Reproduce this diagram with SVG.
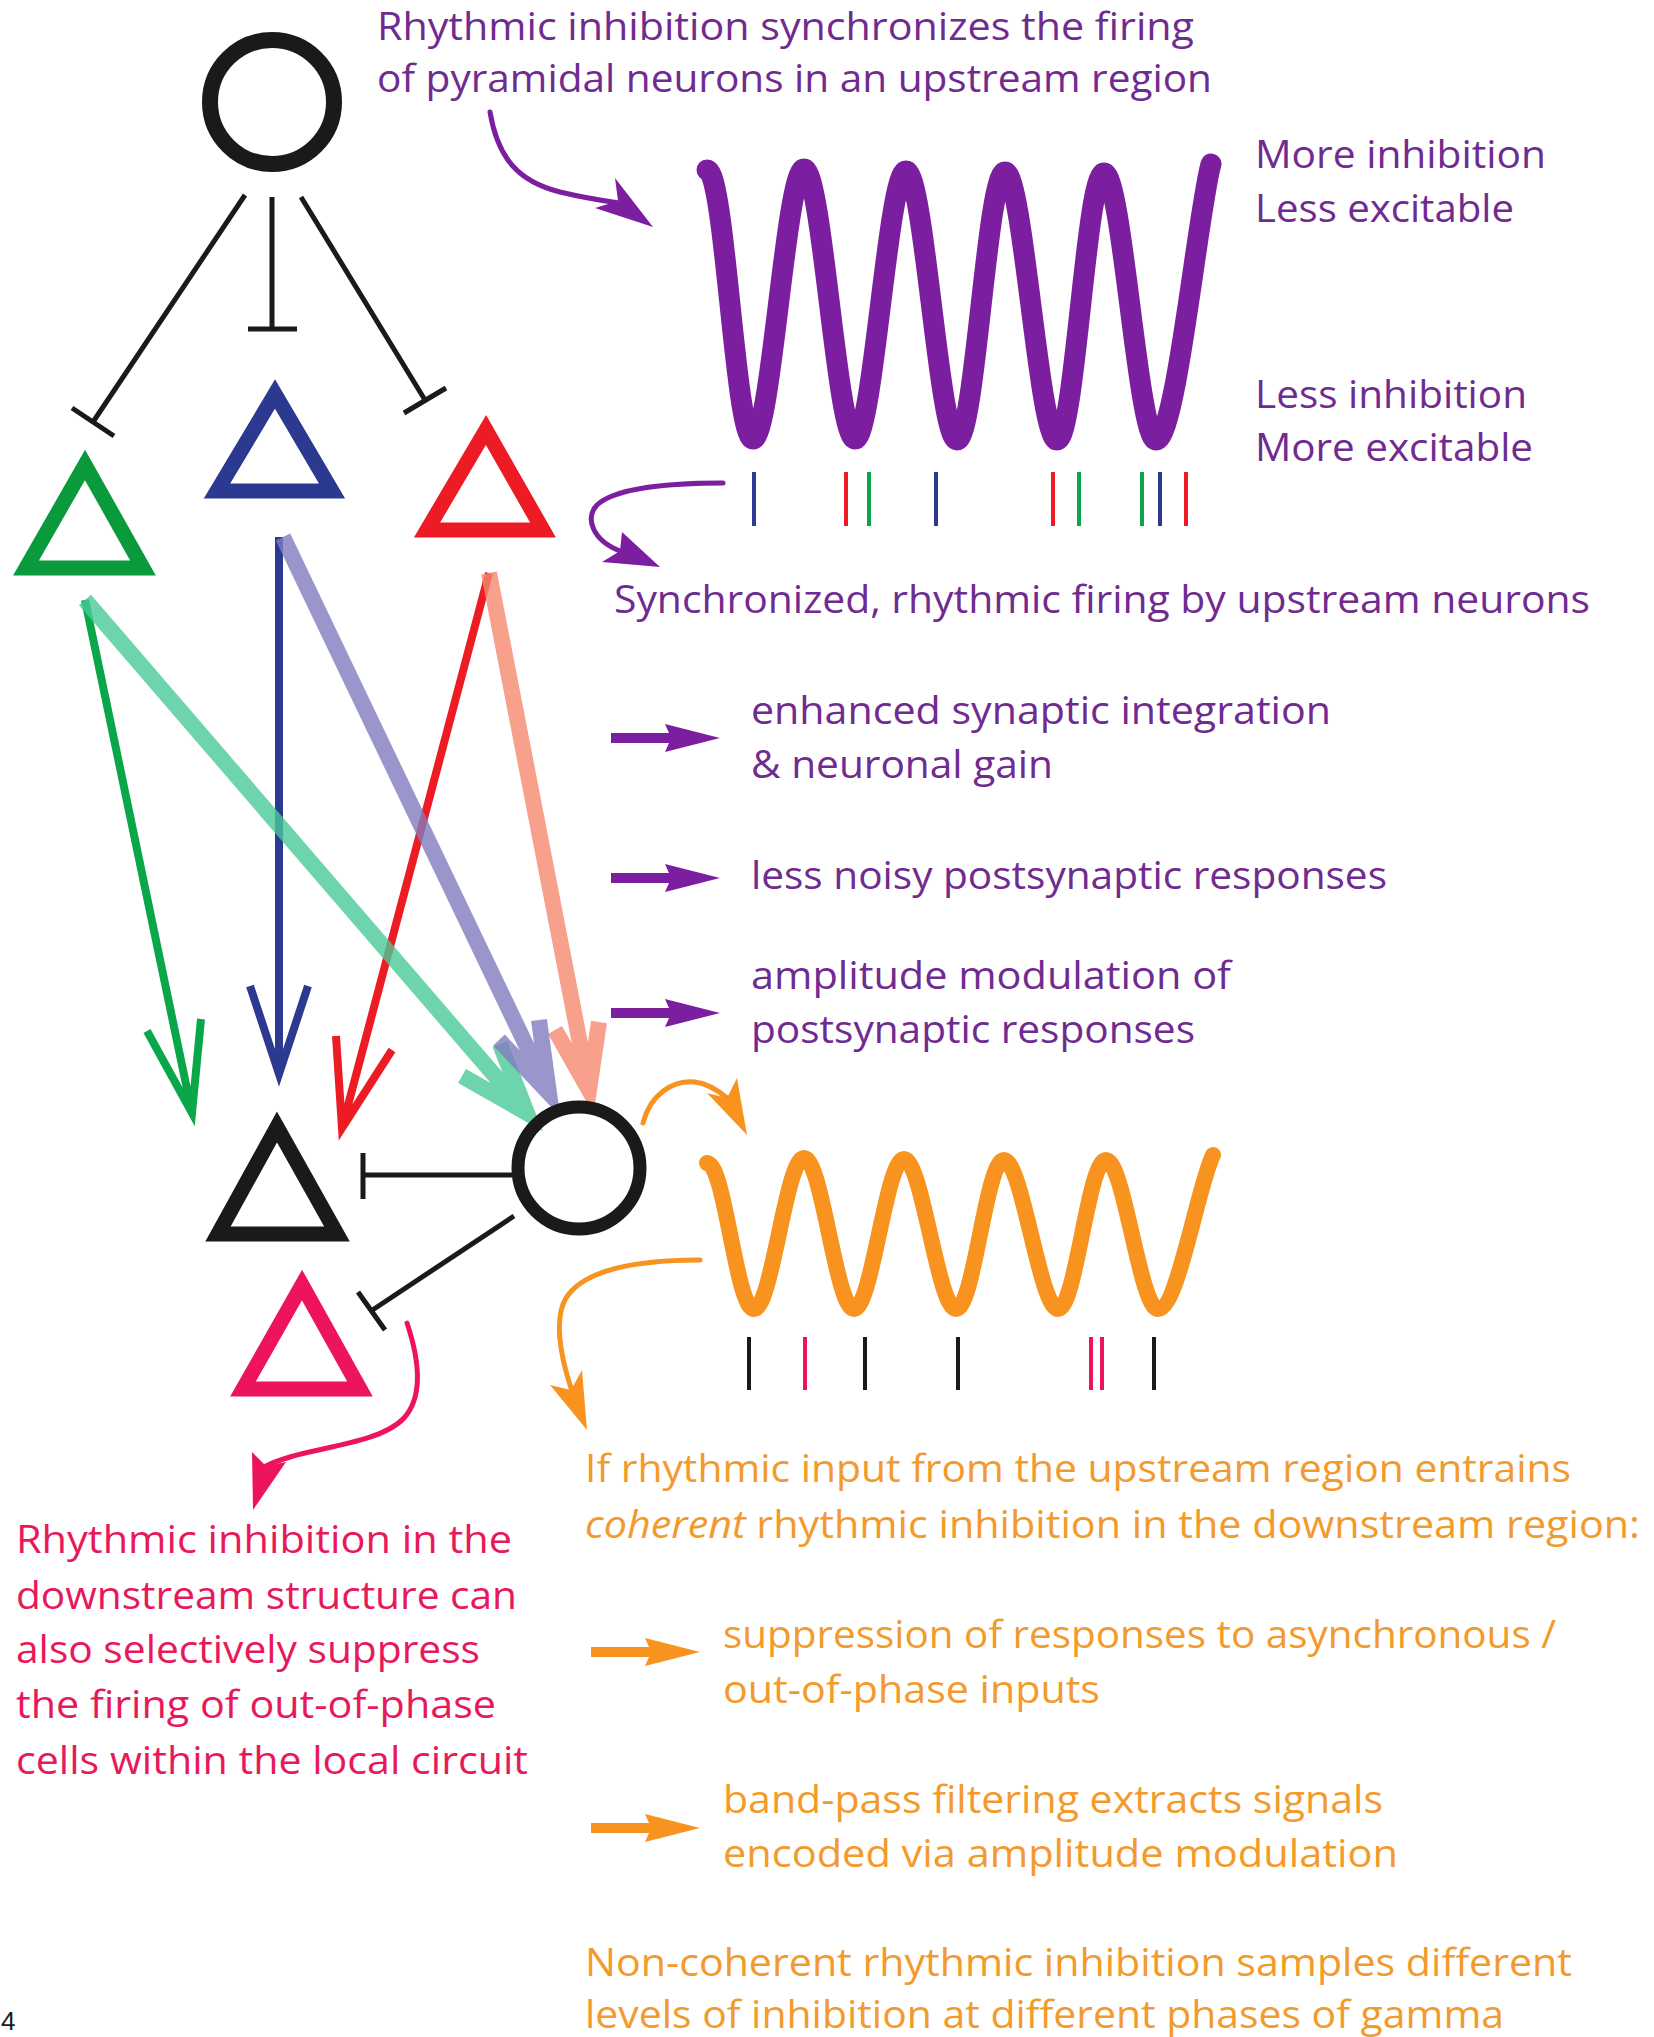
<svg xmlns="http://www.w3.org/2000/svg" width="1654" height="2037" viewBox="0 0 1654 2037">
<style>
  .inh{fill:none;stroke:#1a1a1a;stroke-width:5;stroke-linecap:butt}
  .tri{fill:none;stroke-width:15;stroke-linejoin:miter;stroke-miterlimit:4}
  .cell{fill:none;stroke:#1a1a1a}
  .thin{fill:none;stroke-width:8;stroke-linejoin:miter;stroke-miterlimit:6}
  .thick{fill:none;stroke-width:16;stroke-linejoin:miter;stroke-miterlimit:6;stroke-opacity:0.8}
  .curve{fill:none;stroke-width:5;stroke-linecap:round}
  text{font-family:"Open Sans","Noto Sans","Liberation Sans",sans-serif;font-size:38px}
  .tp{fill:#702b90}
  .to{fill:#f39a2c}
  .tk{fill:#e8195a}
</style>
<defs>
  <path id="blk" d="M0,-5 H58 L54,-14 L109,0 L54,14 L58,5 H0 Z"/>
</defs>
<rect x="0" y="0" width="1654" height="2037" fill="#ffffff"/>

<g id="connectors">
  <path class="inh" d="M245,195 L93,422 M72,408 L114,436"/>
  <path class="inh" d="M272,197 L272,329 M248,329 L297,329"/>
  <path class="inh" d="M301,197 L425,400 M404,413 L446,388"/>
  <path class="inh" d="M512,1175 L363,1175 M363,1153 L363,1199"/>
  <path class="inh" d="M514,1216 L371,1311 M358,1292 L385,1330"/>
  <path class="thin" stroke="#0aa64a" d="M85,600 L192,1113 M147,1031 L192,1113 L201,1019"/>
  <path class="thin" stroke="#2b3990" d="M279,537 L279,1074 M250,986 L279,1074 L308,986"/>
  <path class="thin" stroke="#ed1c24" d="M489,573 L342,1128 M336,1036 L342,1128 L392,1050"/>
  <path class="thick" stroke="#48c997" d="M85,600 L527,1113 M462,1076 L527,1113 L500,1044"/>
  <path class="thick" stroke="#817cbf" d="M283,537 L549,1093 M499,1040 L549,1093 L539,1020"/>
  <path class="thick" stroke="#f5896f" d="M489,573 L589,1090 M555,1030 L589,1090 L599,1022"/>
  <path class="curve" stroke="#7b1fa0" d="M490,112 C498,160 520,182 560,192 C585,198 605,201 619,203"/>
  <polygon fill="#7b1fa0" points="653,227 615,178 618,201 595,208"/>
  <path class="curve" stroke="#7b1fa0" d="M723,483 C670,483 615,488 597,505 C585,518 592,540 620,551"/>
  <polygon fill="#7b1fa0" points="660,567 622,532 620,551 602,562"/>
  <path class="curve" stroke="#f7931e" d="M643,1123 C650,1095 672,1080 695,1082 C710,1084 720,1092 727,1098"/>
  <polygon fill="#f7931e" points="747,1135 737,1078 727,1098 707,1093"/>
  <path class="curve" stroke="#f7931e" d="M700,1260 C640,1260 585,1268 566,1298 C554,1318 560,1355 571,1388"/>
  <polygon fill="#f7931e" points="587,1430 582,1370 571,1390 550,1385"/>
  <path class="curve" stroke="#ee145b" stroke-width="4" d="M407,1323 C421,1365 422,1398 404,1418 C382,1442 322,1447 290,1457 C280,1460 272,1463 266,1466"/>
  <polygon fill="#ee145b" points="253,1510 252,1452 266,1466 286,1462"/>
  <use href="#blk" fill="#7b1fa0" transform="translate(611,738)"/>
  <use href="#blk" fill="#7b1fa0" transform="translate(611,878)"/>
  <use href="#blk" fill="#7b1fa0" transform="translate(611,1013)"/>
  <use href="#blk" fill="#f7931e" transform="translate(591,1652)"/>
  <use href="#blk" fill="#f7931e" transform="translate(591,1828)"/>
</g>

<g id="top-interneuron"><circle class="cell" cx="272" cy="102" r="62" stroke-width="16"/></g>
<g id="pyr-green"><polygon class="tri" stroke="#0a9a3c" points="85,465 143,568 26,568"/></g>
<g id="pyr-blue"><polygon class="tri" stroke="#2b3990" points="275,394 332,491 217,491"/></g>
<g id="pyr-red"><polygon class="tri" stroke="#ed1c24" points="486,430 543,530 427,530"/></g>
<g id="pyr-black"><polygon class="tri" stroke="#1a1a1a" points="277,1127 337,1234 218,1234"/></g>
<g id="pyr-pink"><polygon class="tri" stroke="#ee145b" points="302,1285 360,1389 243,1389"/></g>
<g id="bottom-interneuron"><circle class="cell" cx="579" cy="1168" r="61" stroke-width="13"/></g>

<g id="upstream-oscillation">
  <path fill="none" stroke="#7b1fa0" stroke-width="21" stroke-linecap="round" d="M707,170 C725,170 735,439 753,439 C771,439 786,169 804,169 C822,169 837,439 855,439 C873,439 888,171 906,171 C924,171 939,440 957,440 C975,440 987,172 1005,172 C1023,172 1039,440 1057,440 C1075,440 1086,173 1104,173 C1122,173 1138,440 1156,440 C1176,440 1198,210 1211,164"/>
  <line x1="754" y1="472" x2="754" y2="526" stroke="#2b3990" stroke-width="4"/>
  <line x1="846" y1="472" x2="846" y2="526" stroke="#ed1c24" stroke-width="4"/>
  <line x1="869" y1="472" x2="869" y2="526" stroke="#0aa64a" stroke-width="4"/>
  <line x1="936" y1="472" x2="936" y2="526" stroke="#2b3990" stroke-width="4"/>
  <line x1="1053" y1="472" x2="1053" y2="526" stroke="#ed1c24" stroke-width="4"/>
  <line x1="1079" y1="472" x2="1079" y2="526" stroke="#0aa64a" stroke-width="4"/>
  <line x1="1142" y1="472" x2="1142" y2="526" stroke="#0aa64a" stroke-width="4"/>
  <line x1="1160" y1="472" x2="1160" y2="526" stroke="#2b3990" stroke-width="4"/>
  <line x1="1186" y1="472" x2="1186" y2="526" stroke="#ed1c24" stroke-width="4"/>
</g>

<g id="downstream-oscillation">
  <path fill="none" stroke="#f7931e" stroke-width="16" stroke-linecap="round" d="M707,1163 C725,1163 736,1309 754,1309 C772,1309 786,1158 804,1158 C822,1158 836,1309 854,1309 C872,1309 886,1159 904,1159 C922,1159 938,1309 956,1309 C974,1309 986,1160 1004,1160 C1022,1160 1040,1309 1058,1309 C1076,1309 1088,1160 1106,1160 C1124,1160 1140,1309 1158,1309 C1178,1309 1198,1185 1213,1155"/>
  <line x1="749" y1="1337" x2="749" y2="1390" stroke="#1a1a1a" stroke-width="4"/>
  <line x1="805" y1="1337" x2="805" y2="1390" stroke="#ee145b" stroke-width="4"/>
  <line x1="865" y1="1337" x2="865" y2="1390" stroke="#1a1a1a" stroke-width="4"/>
  <line x1="958" y1="1337" x2="958" y2="1390" stroke="#1a1a1a" stroke-width="4"/>
  <line x1="1091" y1="1337" x2="1091" y2="1390" stroke="#ee145b" stroke-width="4"/>
  <line x1="1102" y1="1337" x2="1102" y2="1390" stroke="#ee145b" stroke-width="4"/>
  <line x1="1154" y1="1337" x2="1154" y2="1390" stroke="#1a1a1a" stroke-width="4"/>
</g>

<g id="labels-upstream" class="tp">
  <text x="377" y="40" font-size="36" textLength="817" lengthAdjust="spacingAndGlyphs">Rhythmic inhibition synchronizes the firing</text>
  <text x="377" y="92" textLength="835" lengthAdjust="spacingAndGlyphs">of pyramidal neurons in an upstream region</text>
  <text x="1255" y="168" textLength="291" lengthAdjust="spacingAndGlyphs">More inhibition</text>
  <text x="1255" y="222" textLength="259" lengthAdjust="spacingAndGlyphs">Less excitable</text>
  <text x="1255" y="408" textLength="272" lengthAdjust="spacingAndGlyphs">Less inhibition</text>
  <text x="1255" y="461" textLength="278" lengthAdjust="spacingAndGlyphs">More excitable</text>
  <text x="614" y="613" textLength="976" lengthAdjust="spacingAndGlyphs">Synchronized, rhythmic firing by upstream neurons</text>
  <text x="751" y="724" textLength="580" lengthAdjust="spacingAndGlyphs">enhanced synaptic integration</text>
  <text x="751" y="778" textLength="302" lengthAdjust="spacingAndGlyphs">&amp; neuronal gain</text>
  <text x="751" y="889" textLength="636" lengthAdjust="spacingAndGlyphs">less noisy postsynaptic responses</text>
  <text x="751" y="989" textLength="480" lengthAdjust="spacingAndGlyphs">amplitude modulation of</text>
  <text x="751" y="1043" textLength="444" lengthAdjust="spacingAndGlyphs">postsynaptic responses</text>
</g>

<g id="labels-downstream" class="to">
  <text x="585" y="1482" textLength="986" lengthAdjust="spacingAndGlyphs">If rhythmic input from the upstream region entrains</text>
  <text x="585" y="1538" textLength="1055" lengthAdjust="spacingAndGlyphs"><tspan font-style="italic">coherent</tspan> rhythmic inhibition in the downstream region:</text>
  <text x="723" y="1648" textLength="833" lengthAdjust="spacingAndGlyphs">suppression of responses to asynchronous /</text>
  <text x="723" y="1703" textLength="377" lengthAdjust="spacingAndGlyphs">out-of-phase inputs</text>
  <text x="723" y="1813" textLength="660" lengthAdjust="spacingAndGlyphs">band-pass filtering extracts signals</text>
  <text x="723" y="1867" textLength="675" lengthAdjust="spacingAndGlyphs">encoded via amplitude modulation</text>
  <text x="585" y="1976" textLength="987" lengthAdjust="spacingAndGlyphs">Non-coherent rhythmic inhibition samples different</text>
  <text x="585" y="2028" textLength="919" lengthAdjust="spacingAndGlyphs">levels of inhibition at different phases of gamma</text>
</g>

<g id="labels-local" class="tk">
  <text x="16" y="1553" textLength="496" lengthAdjust="spacingAndGlyphs">Rhythmic inhibition in the</text>
  <text x="16" y="1609" textLength="501" lengthAdjust="spacingAndGlyphs">downstream structure can</text>
  <text x="16" y="1663" textLength="464" lengthAdjust="spacingAndGlyphs">also selectively suppress</text>
  <text x="16" y="1718" textLength="480" lengthAdjust="spacingAndGlyphs">the firing of out-of-phase</text>
  <text x="16" y="1774" textLength="512" lengthAdjust="spacingAndGlyphs">cells within the local circuit</text>
</g>

<text x="1" y="2030" fill="#1a1a1a" style="font-family:'Liberation Sans',sans-serif;font-size:26px">4</text>
</svg>
